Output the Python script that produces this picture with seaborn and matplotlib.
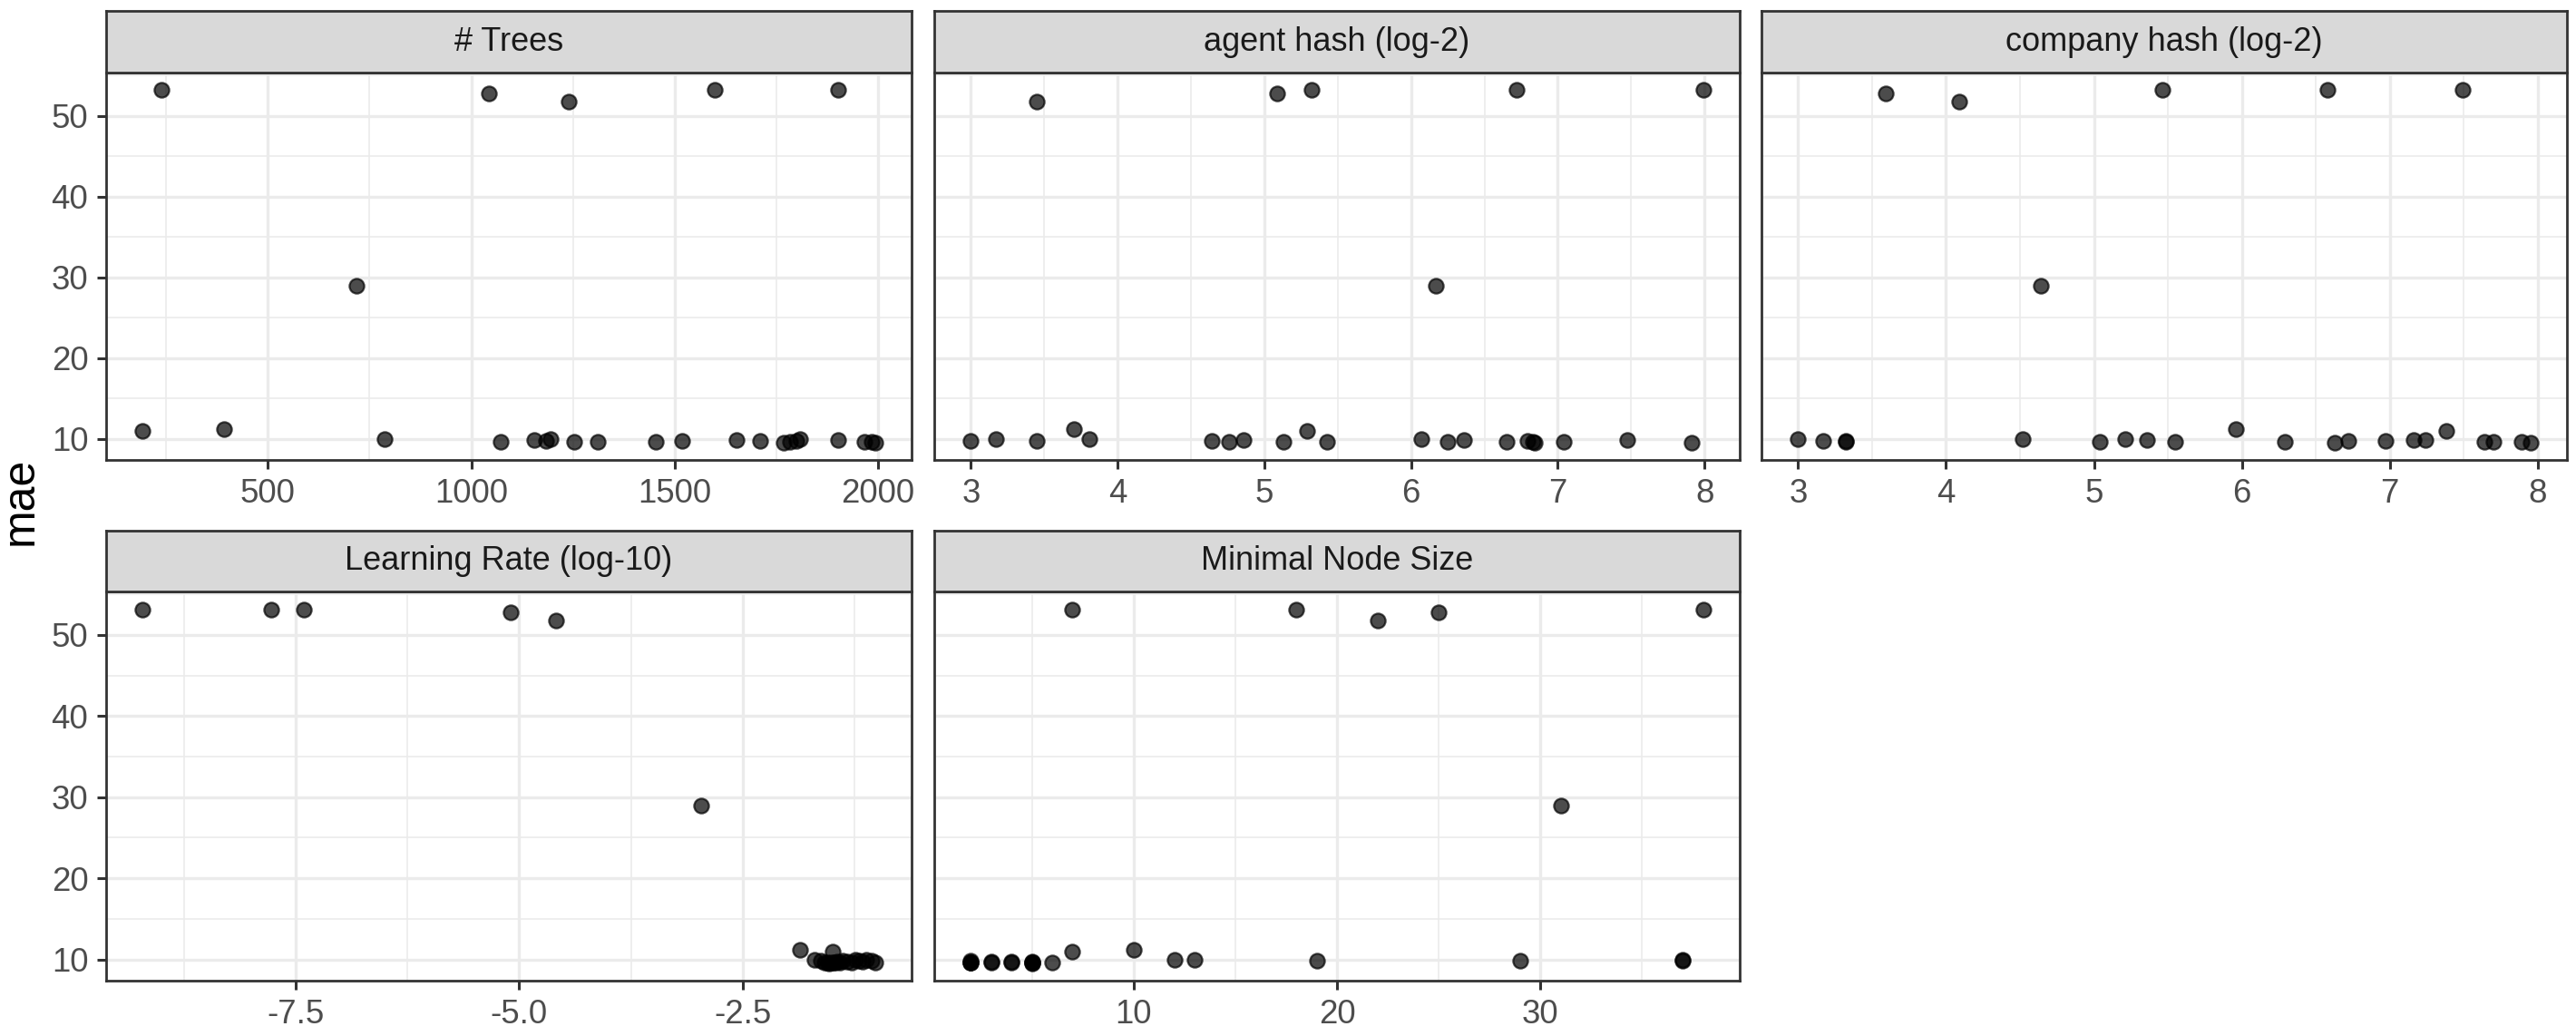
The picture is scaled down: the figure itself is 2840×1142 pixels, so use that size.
import numpy as np
import pandas as pd
import seaborn as sns
import matplotlib.pyplot as plt
from matplotlib.ticker import MultipleLocator

# one row per tuning run: mae and the five tuned parameters
mae = [53.17, 53.17, 53.17, 52.77, 51.77, 28.97, 11.22, 10.95,
       10.0, 9.97, 9.93, 9.9, 9.87, 9.82, 9.8, 9.77, 9.74, 9.72,
       9.68, 9.66, 9.64, 9.63, 9.61, 9.6, 9.59, 9.58, 9.57]

trees = [238, 1600, 1902, 1044, 1239, 718, 391, 192,
         1196, 1808, 786, 1652, 1903, 1155, 1519, 1799, 1185, 1711,
         1073, 1254, 1312, 1455, 1784, 1968, 1985, 1993, 1769]

agent_hash = [5.32, 6.72, 7.99, 5.09, 3.45, 6.17, 3.70, 5.29,
              3.17, 3.81, 6.07, 6.36, 7.47, 4.86, 6.79, 3.00, 3.45, 4.64,
              4.76, 6.25, 6.65, 5.13, 5.43, 6.83, 7.04, 6.84, 7.91]

company_hash = [5.46, 6.58, 7.49, 3.59, 4.09, 4.64, 5.96, 7.38,
                3.00, 4.52, 5.21, 7.16, 7.24, 5.36, 6.72, 6.97, 3.17, 3.32,
                3.32, 5.04, 7.64, 7.70, 7.89, 5.55, 6.29, 6.63, 7.95]

learn_rate = [-9.21, -7.77, -7.41, -5.09, -4.59, -2.96, -1.86, -1.49,
              -1.24, -1.70, -1.12, -1.38, -1.06, -1.62, -1.20, -1.44, -1.16, -1.33,
              -1.51, -1.02, -1.55, -1.28, -1.46, -1.58, -1.41, -1.48, -1.53]

min_node = [7, 18, 38, 25, 22, 31, 10, 7,
            37, 13, 12, 19, 29, 37, 2, 3, 4, 5,
            2, 3, 4, 6, 5, 2, 5, 2, 5]

panels = ['# Trees', 'agent hash (log-2)', 'company hash (log-2)',
          'Learning Rate (log-10)', 'Minimal Node Size']
major_step = [500, 1, 1, 2.5, 10]

wide = pd.DataFrame({'mae': mae,
                     panels[0]: trees,
                     panels[1]: agent_hash,
                     panels[2]: company_hash,
                     panels[3]: learn_rate,
                     panels[4]: min_node})
datos = wide.melt(id_vars='mae', var_name='param', value_name='value')

sns.set_theme(style='white')
plt.rcParams['font.family'] = ['Liberation Sans', 'DejaVu Sans']
plt.rcParams['axes.unicode_minus'] = False

W, H = 2840, 1142
fig = plt.figure(figsize=(W / 200, H / 200), dpi=200)
fig.patch.set_facecolor('white')


def box(x, top, w, h):
    return [x / W, 1 - (top + h) / H, w / W, h / H]


col_left = [117, 1030, 1942]
pw = 888
rows = [(12, 80, 507), (585, 652, 1081)]

ax0 = None
for i, p in enumerate(panels):
    r, c = divmod(i, 3)
    st, pt, pb = rows[r]
    ax = fig.add_axes(box(col_left[c], pt, pw, pb - pt), sharey=ax0)
    if ax0 is None:
        ax0 = ax

    sns.scatterplot(data=datos[datos['param'] == p], x='value', y='mae', ax=ax,
                    color='black', alpha=0.7, s=34, edgecolor='black',
                    linewidth=0.8, legend=False)
    ax.set_xlabel('')
    ax.set_ylabel('')

    ax.xaxis.set_major_locator(MultipleLocator(major_step[i]))
    ax.xaxis.set_minor_locator(MultipleLocator(major_step[i] / 2))
    ax.yaxis.set_major_locator(MultipleLocator(10))
    ax.yaxis.set_minor_locator(MultipleLocator(5))

    ax.set_axisbelow(True)
    ax.grid(which='major', color='#EBEBEB', lw=1.2)
    ax.grid(which='minor', color='#EBEBEB', lw=0.6)
    ax.tick_params(which='major', length=3.6, width=1.1, color='#333333',
                   labelsize=13.2, labelcolor='#4D4D4D', pad=3.5,
                   bottom=True, left=(c == 0), labelleft=(c == 0))
    ax.tick_params(which='minor', length=0)
    for sp in ax.spines.values():
        sp.set_color('#333333')
        sp.set_linewidth(1.0)

    # facet strip
    sax = fig.add_axes(box(col_left[c], st, pw, pt - st))
    sax.set_facecolor('#D9D9D9')
    sax.set_xticks([])
    sax.set_yticks([])
    for sp in sax.spines.values():
        sp.set_color('#333333')
        sp.set_linewidth(1.0)
    sax.text(0.5, 0.5, p, ha='center', va='center', fontsize=13,
             color='#1A1A1A', transform=sax.transAxes)

fig.text(23 / W, 1 - 552 / H, 'mae', rotation=90, ha='center', va='center',
         fontsize=18, color='black')

fig.savefig('out.png', dpi=200)
